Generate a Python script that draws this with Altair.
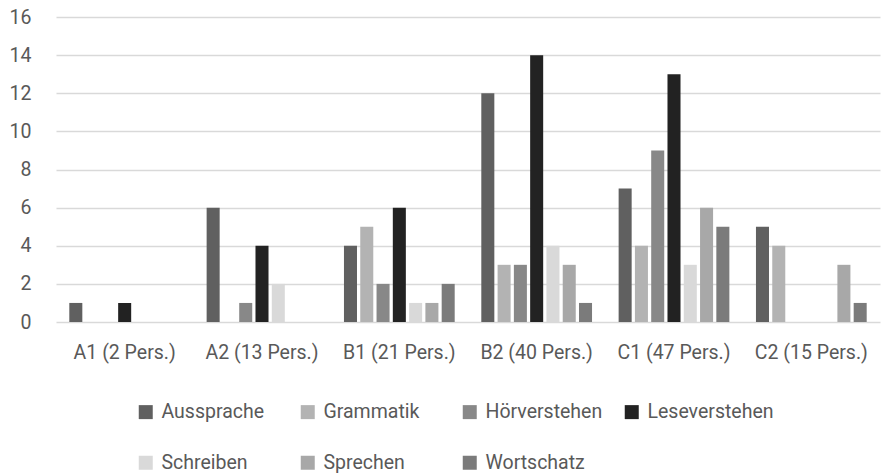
import altair as alt
import pandas as pd

# Sprachniveaus (Kategorien auf der x-Achse)
levels = ["A1 (2 Pers.)", "A2 (13 Pers.)", "B1 (21 Pers.)",
          "B2 (40 Pers.)", "C1 (47 Pers.)", "C2 (15 Pers.)"]

# Nennungen je Bereich, in der Reihenfolge der Niveaus
aussprache = [1, 6, 4, 12, 7, 5]
grammatik = [0, 0, 5, 3, 4, 4]
hoerverstehen = [0, 1, 2, 3, 9, 0]
leseverstehen = [1, 4, 6, 14, 13, 0]
schreiben = [0, 2, 1, 4, 3, 0]
sprechen = [0, 0, 1, 3, 6, 3]
wortschatz = [0, 0, 2, 1, 5, 1]

series_names = ["Aussprache", "Grammatik", "Hörverstehen", "Leseverstehen",
                "Schreiben", "Sprechen", "Wortschatz"]
series_values = [aussprache, grammatik, hoerverstehen, leseverstehen,
                 schreiben, sprechen, wortschatz]
series_colors = ["#606060", "#b3b3b3", "#888888", "#222222",
                 "#d9d9d9", "#a8a8a8", "#7b7b7b"]

rows = []
for name, vals in zip(series_names, series_values):
    for lvl, v in zip(levels, vals):
        rows.append({"Niveau": lvl, "Bereich": name, "Anzahl": v})
df = pd.DataFrame(rows)

FONT = "Roboto"
TEXT = "#595959"
FS = 19.5

chart = alt.Chart(df).mark_bar().encode(
    x=alt.X(
        "Niveau:N", sort=levels,
        scale=alt.Scale(paddingInner=0.17, paddingOuter=0.085),
        axis=alt.Axis(title=None, labelAngle=0, domain=False, ticks=False,
                      labelPadding=21, labelFont=FONT, labelFontSize=FS,
                      labelColor=TEXT),
    ),
    xOffset=alt.XOffset(
        "Bereich:N", sort=series_names,
        scale=alt.Scale(paddingInner=0.2, paddingOuter=0.1),
    ),
    y=alt.Y(
        "Anzahl:Q",
        scale=alt.Scale(domain=[0, 16], nice=False),
        axis=alt.Axis(title=None, values=list(range(0, 17, 2)), domain=False,
                      ticks=False, labelPadding=25, labelFont=FONT,
                      labelFontSize=FS, labelColor=TEXT,
                      gridColor="#d9d9d9", gridWidth=1.5),
    ),
    color=alt.Color(
        "Bereich:N", sort=series_names,
        scale=alt.Scale(domain=series_names, range=series_colors),
        legend=alt.Legend(title=None, orient="none", legendX=80, legendY=385,
                          direction="horizontal", columns=4, gridAlign="all",
                          symbolType="square", symbolSize=196,
                          symbolStrokeWidth=0, labelFont=FONT,
                          labelFontSize=FS, labelColor=TEXT, labelOffset=6,
                          columnPadding=10, rowPadding=30),
    ),
).properties(
    width=824,
    height=305,
    padding={"left": 56, "top": 17, "right": 1, "bottom": 151},
    autosize=alt.AutoSizeParams(type="none"),
).configure_view(stroke=None)

chart.save("out.html", embed_options={"renderer": "svg", "actions": False})
